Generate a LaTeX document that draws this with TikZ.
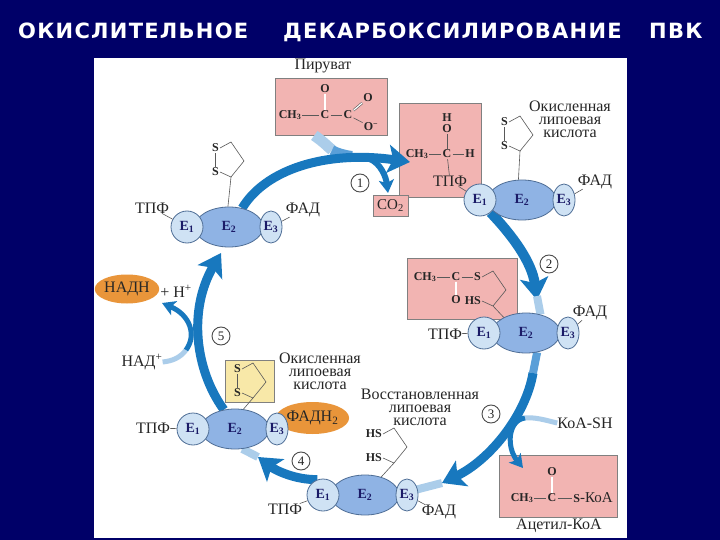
\documentclass[tikz,border=0pt]{standalone}
\usepackage{fontspec}
\setmainfont{Liberation Serif}
\newfontfamily\titlefont[LetterSpace=6]{DejaVu Sans}
\usetikzlibrary{arrows.meta,shapes.geometric,backgrounds}
\definecolor{navy}{HTML}{000068}
\definecolor{flowblue}{HTML}{1878BE}
\definecolor{midblue}{HTML}{5A9FD8}
\definecolor{paleblue}{HTML}{ABCDEA}
\definecolor{lobeblue}{HTML}{CFE2F4}
\definecolor{coreblue}{HTML}{8FB3E4}
\definecolor{rimblue}{HTML}{4F6E96}
\definecolor{pinkbox}{HTML}{F2B4B2}
\definecolor{yellowbox}{HTML}{F8E8A8}
\definecolor{orangeblob}{HTML}{E9953A}
\definecolor{ink}{HTML}{262626}
\tikzset{
  lab/.style={font=\fontsize{16}{13}\selectfont,text=ink,inner sep=0pt,align=center},
  chem/.style={font=\fontsize{12}{12}\selectfont\bfseries,text=ink,inner sep=1pt},
  headline/.style={font=\titlefont\bfseries\fontsize{21}{21}\selectfont,text=white,anchor=base west,inner sep=0pt},
  box/.style={draw=black!50,fill=pinkbox,line width=0.9pt,inner sep=0pt},
  hairline/.style={draw=black!65,line width=0.6pt},
  lobe/.style={ellipse,draw=rimblue,fill=lobeblue,line width=0.8pt,inner sep=0pt,font=\fontsize{14}{14}\selectfont\bfseries,text=ink!70!blue},
  core/.style={lobe,fill=coreblue},
  blob/.style={ellipse,fill=orangeblob,minimum width=56pt,minimum height=29pt,inner sep=0pt,font=\fontsize{16}{16}\selectfont,text=ink},
  stepno/.style={circle,draw=black!70,fill=white,line width=0.9pt,minimum size=18pt,inner sep=0pt,font=\fontsize{13}{13}\selectfont,text=ink},
  flowline/.style={draw=flowblue,line width=#1},
  flowline/.default=9pt,
  bighead/.style={-{Stealth[length=22pt,width=28pt,inset=5pt]}},
  smallhead/.style={-{Stealth[length=13pt,width=15pt,inset=3pt]}},
}
\newcommand{\Complex}[2]{
  \begin{scope}[shift={#2}]
    \node[core,minimum width=68pt,minimum height=40pt] (#1b) at (0,0) {Е\textsubscript{2}};
    \node[lobe,minimum width=32pt,minimum height=32pt] (#1a) at (-42,0) {Е\textsubscript{1}};
    \node[lobe,minimum width=22pt,minimum height=32pt] (#1c) at (42,0) {Е\textsubscript{3}};
  \end{scope}
}
\newcommand{\Ring}[4]{
  \begin{scope}[shift={#2}]
    \node[chem,anchor=east] (#1u) at (4,0) {#3};
    \node[chem,anchor=east] (#1v) at (4,24) {#4};
    \coordinate (#1p) at (15,-6);
    \coordinate (#1q) at (28,13);
    \coordinate (#1r) at (15,29);
    \draw[hairline] (#1u.east) -- (#1p) -- (#1q) -- (#1r) -- (#1v.east);
  \end{scope}
}

\begin{document}
\begin{tikzpicture}[x=1pt,y=-1pt]
  \useasboundingbox (0,0) rectangle (720,540);
  \begin{pgfonlayer}{background}
    \fill[navy] (0,0) rectangle (720,540);
    \fill[white] (94,58) rectangle (627,538);
    \node[box,minimum width=112pt,minimum height=57pt] (pyrbox) at (331,106.5) {};
    \node[box,minimum width=82pt,minimum height=94pt] (tpfbox) at (440,150) {};
    \node[box,minimum width=35pt,minimum height=21pt,font=\fontsize{15}{15}\selectfont,text=ink] (co2) at (390.5,205.5) {СО\textsubscript{2}};
    \node[box,minimum width=110pt,minimum height=61pt] (thiobox) at (462,288.5) {};
    \node[box,minimum width=118pt,minimum height=62pt] (acebox) at (558,486) {};
    \node[box,fill=yellowbox,minimum width=49pt,minimum height=42pt] (yelbox) at (249.5,381) {};
  \end{pgfonlayer}

  \node[headline] (ttla) at (18,39) {ОКИСЛИТЕЛЬНОЕ};
  \node[headline] (ttlb) at (283,39) {ДЕКАРБОКСИЛИРОВАНИЕ};
  \node[headline] (ttlc) at (649,39) {ПВК};

  \Complex{cia}{(522,200)}
  \Complex{cib}{(526,333)}
  \Complex{cic}{(365,495)}
  \Complex{cid}{(235,429)}
  \Complex{cie}{(229,227)}

  % pyruvate
  \node[lab] (pyrname) at (323,66) {Пируват};
  \node[chem] (pch) at (290,115) {CH\textsubscript{3}};
  \node[chem] (pca) at (325,115) {C};
  \node[chem] (pcb) at (348,115) {C};
  \node[chem] (poa) at (325,89) {O};
  \node[chem] (pob) at (368,98) {O};
  \node[chem] (poc) at (371,127) {O\textsuperscript{−}};
  \draw[hairline] (pch) -- (pca);
  \draw[hairline] (pca) -- (pcb);
  \draw[hairline,double,double distance=1.2pt] (pca) -- (poa);
  \draw[hairline,double,double distance=1.2pt] (pcb) -- (pob);
  \draw[hairline] (pcb) -- (poc);

  % hydroxyethyl on the first enzyme
  \node[chem] (hh) at (447,118) {H};
  \node[chem] (ho) at (447,129) {O};
  \node[chem] (hch) at (417,154) {CH\textsubscript{3}};
  \node[chem] (hc) at (447,154) {C};
  \node[chem] (hr) at (470,154) {H};
  \node[lab] (htpf) at (450,181) {ТПФ};
  \draw[hairline] (ho) -- (hc);
  \draw[hairline] (hch) -- (hc);
  \draw[hairline] (hc) -- (hr);
  \draw[hairline] (hc) -- (htpf);
  \draw[hairline] (htpf) -- (ciaa);

  \Ring{ra}{(505,122)}{S}{S}
  \draw[hairline] (rau) -- (rav);
  \draw[hairline] (rar) -- (ciab.100);
  \node[lab] (raname) at (570,119) {Окисленная\\липоевая\\кислота};
  \node[lab] (cifad) at (595,182) {ФАД};
  \draw[hairline] (cifad) -- (ciac);

  % acetyl on lipoate
  \node[chem] (tch) at (425,277) {CH\textsubscript{3}};
  \node[chem] (tc) at (456,277) {C};
  \node[chem] (to) at (456,300) {O};
  \Ring{rb}{(478,277)}{S}{HS}
  \draw[hairline] (tch) -- (tc);
  \draw[hairline] (tc) -- (rbu);
  \draw[hairline,double,double distance=1.2pt] (tc) -- (to);
  \draw[hairline] (rbr) -- (cibb.145);
  \node[lab] (citpf) at (445,334) {ТПФ};
  \draw[hairline] (citpf) -- (ciba);
  \node[lab] (cjfad) at (590,313) {ФАД};
  \draw[hairline] (cjfad) -- (cibc);

  % acetyl-coa
  \node[chem] (ach) at (522,498) {CH\textsubscript{3}};
  \node[chem] (ac) at (552,498) {C};
  \node[chem] (ao) at (552,472) {O};
  \node[chem,font=\fontsize{15}{15}\selectfont] (as) at (593,498) {{\fontsize{12}{12}\selectfont\bfseries S}-КоА};
  \draw[hairline] (ach) -- (ac);
  \draw[hairline] (ac) -- (as);
  \draw[hairline,double,double distance=1.2pt] (ac) -- (ao);
  \node[lab] (acname) at (559,526) {Ацетил-КоА};
  \node[lab] (coash) at (585,423) {КоА-SH};

  % reduced lipoate
  \Ring{rc}{(379,434)}{HS}{HS}
  \draw[hairline] (rcr) -- (cicb.48);
  \node[lab] (rcname) at (420,407) {Восстановленная\\липоевая\\кислота};
  \node[lab] (cktpf) at (285,509) {ТПФ};
  \draw[hairline] (cktpf) -- (cica);
  \node[lab] (ckfad) at (439,512) {ФАД};
  \draw[hairline] (ckfad) -- (cicc);

  % oxidised lipoate with fadh2
  \Ring{rd}{(238,369)}{S}{S}
  \draw[hairline] (rdu) -- (rdv);
  \draw[hairline] (rdr) -- (cidb.67);
  \node[lab] (rdname) at (320,371) {Окисленная\\липоевая\\кислота};
  \node[lab] (cltpf) at (153,428) {ТПФ};
  \draw[hairline] (cltpf) -- (cida);
  \begin{pgfonlayer}{background}
    \node[blob,minimum width=59pt,minimum height=32pt] (fadh) at (312.5,418) {ФАДН\textsubscript{2}};
  \end{pgfonlayer}

  % fifth complex
  \Ring{re}{(216,148)}{S}{S}
  \draw[hairline] (reu) -- (rev);
  \draw[hairline] (rer) -- (cieb.93);
  \node[lab] (cmtpf) at (152,208) {ТПФ};
  \draw[hairline] (cmtpf) -- (ciea);
  \node[lab] (cmfad) at (303,210) {ФАД};
  \draw[hairline] (cmfad) -- (ciec);

  \node[blob] (nadh) at (127,289) {НАДН};
  \node[lab] (hplus) at (176,291) {+ Н\textsuperscript{+}};
  \node[lab] (nadp) at (142,362) {НАД\textsuperscript{+}};

  \node[stepno] (na) at (360,183) {1};
  \node[stepno] (nb) at (549,264) {2};
  \node[stepno] (nc) at (491,414) {3};
  \node[stepno] (nd) at (301,461) {4};
  \node[stepno] (ne) at (221,336) {5};

  \coordinate (mida) at (352,156);
  \coordinate (pyrmid) at (332,150);
  \coordinate (tipa) at (410,162);
  \coordinate (tipb) at (388,193);
  \coordinate (forkb) at (370,159);
  \coordinate (tipc) at (537,300);
  \coordinate (backc) at (537,296);
  \coordinate (tipd) at (442,483);
  \coordinate (joind) at (533,373);
  \coordinate (tipe) at (523,468);
  \coordinate (forke) at (525,418);
  \coordinate (tipf) at (258,457);
  \coordinate (tipg) at (221,253);
  \coordinate (tiph) at (162,303);
  \coordinate (forkh) at (186,350);

  \begin{pgfonlayer}{background}
    % side branches
    \draw[flowline=11pt,paleblue] (pyrbox.240) .. controls (325,143) and (327,146) .. (pyrmid);
    \draw[flowline=10pt,midblue] (pyrmid) .. controls (337,153) and (344,155) .. (mida);
    \draw[flowline=6pt,flowblue,smallhead] (forkb) .. controls (381,164) and (386,177) .. (tipb);
    \draw[flowline=5pt,paleblue] (coash.west) .. controls (545,420) and (535,417) .. (forke);
    \draw[flowline=5pt,flowblue,smallhead] (forke) .. controls (508,420) and (506,447) .. (tipe);
    \draw[flowline=5pt,paleblue] (nadp.east) .. controls (172,361) and (180,358) .. (forkh);
    \draw[flowline=5pt,flowblue,smallhead] (forkh) .. controls (197,335) and (190,315) .. (tiph);
    % main cycle
    \draw[flowline,bighead] (cieb.55) .. controls (265,170) and (325,150) .. (tipa);
    \draw[flowline=10pt,bighead] (ciaa.-50) .. controls (512,235) and (532,262) .. (tipc);
    \draw[flowline=8pt,paleblue] (backc) -- (cibb.52);
    \draw[flowline=8pt,midblue] (cibb.-60) -- (joind);
    \draw[flowline=9pt,bighead] (joind) .. controls (526,415) and (490,460) .. (tipd);
    \draw[flowline=8pt,paleblue] (tipd) -- (cicc.west);
    \draw[flowline=9pt,bighead] (cica.110) .. controls (295,480) and (275,470) .. (tipf);
    \draw[flowline=8pt,paleblue] (tipf) -- (cidb.-70);
    \draw[flowline,bighead] (cidb.120) .. controls (195,370) and (188,310) .. (tipg);
  \end{pgfonlayer}
\end{tikzpicture}
\end{document}
